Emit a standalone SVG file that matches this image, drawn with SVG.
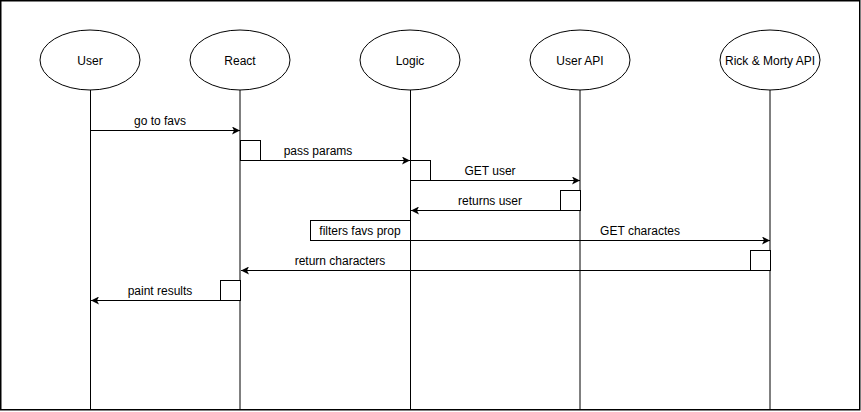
<svg xmlns="http://www.w3.org/2000/svg" width="861" height="412" viewBox="0 0 861 412">
<style>
.frame{fill:#ffffff;stroke:#000000;stroke-width:1.5}
.node ellipse{fill:#ffffff;stroke:#000000;stroke-width:1}
.life{stroke:#000000;stroke-width:1;fill:none}
.act{fill:#ffffff;stroke:#000000;stroke-width:1}
.msg{stroke:#000000;stroke-width:1;fill:none}
text{font-family:"Liberation Sans",Arial,Helvetica,sans-serif;font-size:12px;fill:#000000;text-anchor:middle}
</style>
<defs>
<marker id="arr" viewBox="0 0 10 10" refX="10" refY="5" markerWidth="8" markerHeight="8" markerUnits="userSpaceOnUse" orient="auto">
<path d="M0,0 L10,5 L0,10 L2.5,5 Z" fill="#000000"/>
</marker>
</defs>
<rect class="frame" x="0.75" y="0.75" width="859" height="409"/>
<g id="lifelines">
<line class="life" x1="90.5" y1="90" x2="90.5" y2="410"/>
<line class="life" x1="240" y1="90" x2="240" y2="410"/>
<line class="life" x1="410.5" y1="90" x2="410.5" y2="410"/>
<line class="life" x1="580" y1="90" x2="580" y2="410"/>
<line class="life" x1="770" y1="90" x2="770" y2="410"/>
</g>
<g id="node-user" class="node"><ellipse cx="90" cy="60" rx="50" ry="30"/><text x="90" y="65">User</text></g>
<g id="node-react" class="node"><ellipse cx="240" cy="60" rx="50" ry="30"/><text x="240" y="65">React</text></g>
<g id="node-logic" class="node"><ellipse cx="410" cy="60" rx="50" ry="30"/><text x="410" y="65">Logic</text></g>
<g id="node-userapi" class="node"><ellipse cx="580" cy="60" rx="50" ry="30"/><text x="580" y="65">User API</text></g>
<g id="node-rm" class="node"><ellipse cx="770" cy="60" rx="50" ry="30"/><text x="770" y="65">Rick &amp; Morty API</text></g>
<g id="activations">
<rect class="act" x="240.5" y="140.5" width="20" height="20"/>
<rect class="act" x="410.5" y="160.5" width="20" height="20"/>
<rect class="act" x="560.5" y="190.5" width="20" height="20"/>
<rect class="act" x="310.5" y="220.5" width="100" height="20"/>
<rect class="act" x="750.5" y="250.5" width="20" height="20"/>
<rect class="act" x="220.5" y="280.5" width="20" height="20"/>
</g>
<g id="connectors">
<line class="msg" x1="90.5" y1="130.5" x2="240" y2="130.5" marker-end="url(#arr)"/>
<line class="msg" x1="260.5" y1="160.5" x2="410" y2="160.5" marker-end="url(#arr)"/>
<line class="msg" x1="430.5" y1="180.5" x2="580" y2="180.5" marker-end="url(#arr)"/>
<line class="msg" x1="560.5" y1="210.5" x2="411" y2="210.5" marker-end="url(#arr)"/>
<line class="msg" x1="410.5" y1="240.5" x2="770" y2="240.5" marker-end="url(#arr)"/>
<line class="msg" x1="750.5" y1="270.5" x2="241" y2="270.5" marker-end="url(#arr)"/>
<line class="msg" x1="220.5" y1="300.5" x2="91" y2="300.5" marker-end="url(#arr)"/>
</g>
<g id="labels">
<text x="160" y="125">go to favs</text>
<text x="318" y="155">pass params</text>
<text x="490" y="175">GET user</text>
<text x="490" y="205">returns user</text>
<text x="360" y="235">filters favs prop</text>
<text x="640" y="235">GET charactes</text>
<text x="340" y="265">return characters</text>
<text x="160" y="295">paint results</text>
</g>
</svg>
